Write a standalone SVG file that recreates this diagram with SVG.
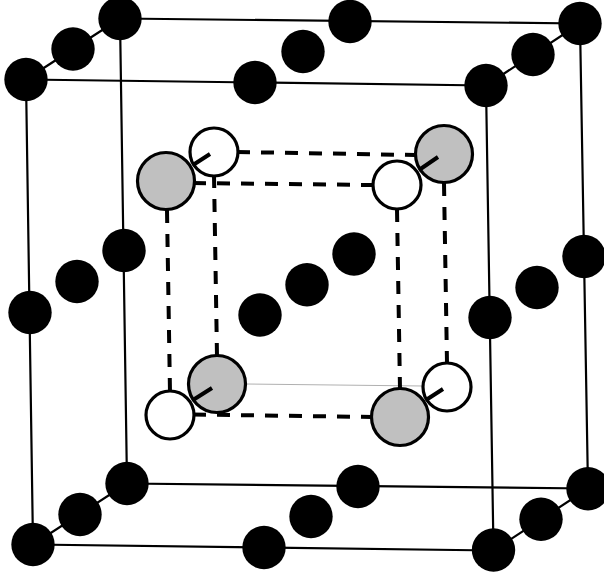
<svg xmlns="http://www.w3.org/2000/svg" width="604" height="575" viewBox="0 0 604 575">
<style>
.e{fill:none;stroke:#000;stroke-width:2.2}
.d{fill:none;stroke:#000;stroke-width:4;stroke-dasharray:13 11}
.s{fill:none;stroke:#000;stroke-width:4}
.t{fill:none;stroke:#b0b0b0;stroke-width:1}
.b{fill:#000}
.w{fill:#fff;stroke:#000;stroke-width:3.2}
.g{fill:#c0c0c0;stroke:#000;stroke-width:3.2}
</style>
<rect width="604" height="575" fill="#fff"/>
<g id="connectors">
<path class="e" d="M26 79.5L486 85.5L493.5 550.5L33 544.5Z"/>
<path class="e" d="M120 18.5L580 23.5L588 488.5L127 483.5Z"/>
<path class="e" d="M26 79.5L120 18.5M486 85.5L580 23.5M493.5 550.5L588 488.5M33 544.5L127 483.5"/>
<path class="t" d="M246 384L423 386"/>
<path class="d" d="M237 152L415 155"/>
<path class="d" d="M193 183L372 185"/>
<path class="d" d="M193 414.500L372 417"/>
<path class="d" d="M167 210L170 392"/>
<path class="d" d="M214 175L217 356"/>
<path class="d" d="M397 209L400 389"/>
<path class="d" d="M444 183L447 363"/>
</g>
<g id="back-white-tl"><circle class="w" cx="214" cy="152" r="24"/></g>
<g id="front-gray-tl"><circle class="g" cx="166" cy="181" r="28.500"/></g>
<g id="back-gray-tr"><circle class="g" cx="444" cy="154" r="28.500"/></g>
<g id="front-white-tr"><circle class="w" cx="397" cy="185" r="24"/></g>
<g id="back-gray-bl"><circle class="g" cx="217" cy="384" r="28.500"/></g>
<g id="front-white-bl"><circle class="w" cx="170" cy="415" r="24"/></g>
<g id="back-white-br"><circle class="w" cx="447" cy="387" r="24"/></g>
<g id="front-gray-br"><circle class="g" cx="400" cy="417" r="28.500"/></g>
<g id="diagonals">
<path class="s" d="M210 154L193 165M438 157L419 170M212 388L193 400M443 389L426 400"/>
</g>
<g id="black-atoms" class="b">
<circle id="a1" cx="26" cy="79.500" r="21.700"/>
<circle id="a2" cx="73" cy="49" r="21.700"/>
<circle id="a3" cx="120" cy="18.500" r="21.700"/>
<circle id="a4" cx="255" cy="82.500" r="21.700"/>
<circle id="a5" cx="303" cy="51.500" r="21.700"/>
<circle id="a6" cx="350" cy="21.500" r="21.700"/>
<circle id="a7" cx="486" cy="85.500" r="21.700"/>
<circle id="a8" cx="533" cy="54.500" r="21.700"/>
<circle id="a9" cx="580" cy="23.500" r="21.700"/>
<circle id="a10" cx="30" cy="312.500" r="21.700"/>
<circle id="a11" cx="77" cy="281.500" r="21.700"/>
<circle id="a12" cx="124" cy="250.500" r="21.700"/>
<circle id="a13" cx="260" cy="315" r="21.700"/>
<circle id="a14" cx="307" cy="284.700" r="21.700"/>
<circle id="a15" cx="354" cy="254" r="21.700"/>
<circle id="a16" cx="490" cy="317.500" r="21.700"/>
<circle id="a17" cx="537" cy="287.500" r="21.700"/>
<circle id="a18" cx="584" cy="256.500" r="21.700"/>
<circle id="a19" cx="33" cy="544.500" r="21.700"/>
<circle id="a20" cx="80" cy="514.500" r="21.700"/>
<circle id="a21" cx="127" cy="483.500" r="21.700"/>
<circle id="a22" cx="264" cy="547.500" r="21.700"/>
<circle id="a23" cx="311" cy="516.500" r="21.700"/>
<circle id="a24" cx="358" cy="486.500" r="21.700"/>
<circle id="a25" cx="493.500" cy="550" r="21.700"/>
<circle id="a26" cx="541" cy="519.300" r="21.700"/>
<circle id="a27" cx="588" cy="488.700" r="21.700"/>
</g>
</svg>
